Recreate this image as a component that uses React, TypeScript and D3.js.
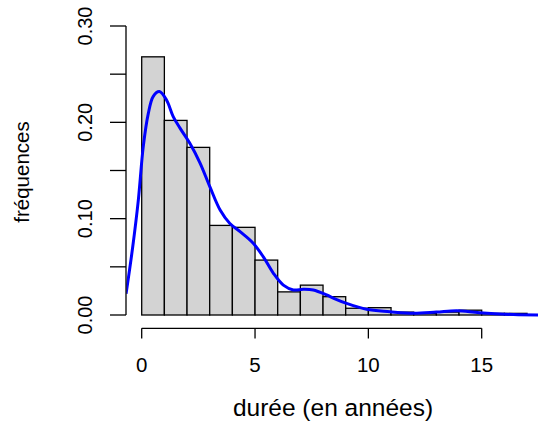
import React from "react";
import * as d3 from "d3";

const binStarts = [0, 1, 2, 3, 4, 5, 6, 7, 8, 9, 10, 11, 12, 13, 14, 15, 16];
const binFreq = [0.268, 0.202, 0.174, 0.093, 0.091, 0.057, 0.024, 0.031, 0.019, 0.007, 0.0076, 0.003, 0.0017, 0.003, 0.005, 0.0017, 0.0017];

const densX = [-0.69, -0.4, -0.15, 0.07, 0.29, 0.51, 0.78, 1.1, 1.39, 1.69, 2.13, 2.57, 3.01, 3.46, 3.89, 4.34, 4.92, 5.36, 5.81, 6.25, 6.69, 7.13, 7.57, 8.16, 8.5, 9.04, 9.92, 10.95, 11.98, 13.0, 13.9, 14.9, 16.4, 17.7];
const densY = [0.022, 0.07, 0.119, 0.175, 0.209, 0.227, 0.232, 0.223, 0.206, 0.194, 0.178, 0.158, 0.133, 0.109, 0.095, 0.0865, 0.0745, 0.0606, 0.0433, 0.031, 0.026, 0.0267, 0.026, 0.0208, 0.017, 0.012, 0.0059, 0.0034, 0.0017, 0.003, 0.0045, 0.0024, 0.0005, 0.0];

const xTicks = [0, 5, 10, 15];
const yTicks = [0, 0.05, 0.1, 0.15, 0.2, 0.25, 0.3];
const yLabels = ["0.00", "0.10", "0.20", "0.30"];
const yLabelVals = [0, 0.1, 0.2, 0.3];

const xTitle = "durée (en années)";
const yTitle = "fréquences";

const W = 538;
const H = 421;
const font = "'Liberation Sans', Arial, Helvetica, sans-serif";

export default function App() {
  const x = d3.scaleLinear().domain([0, 15]).range([141.7, 481.7]);
  const y = d3.scaleLinear().domain([0, 0.3]).range([315, 26]);
  const binW = 1;

  const line = d3
    .line<number>()
    .x((_, i) => x(densX[i]))
    .y((d) => y(d))
    .curve(d3.curveCatmullRom.alpha(0.5));

  const clipX0 = x(-0.68);
  const clipX1 = x(17.68);
  const clipY0 = y(0.312);
  const clipY1 = y(-0.012);

  return (
    <div style={{ position: "fixed", left: 0, top: 0 }}>
      <svg width={W} height={H} style={{ display: "block", background: "#fff" }}>
        <defs>
          <clipPath id="plotclip">
            <rect x={clipX0} y={clipY0} width={clipX1 - clipX0} height={clipY1 - clipY0} />
          </clipPath>
        </defs>
        {/* bars */}
        <g>
          {binStarts.map((s, i) => (
            <rect
              key={i}
              x={x(s)}
              y={y(binFreq[i])}
              width={x(s + binW) - x(s)}
              height={y(0) - y(binFreq[i])}
              fill="#D3D3D3"
              stroke="#000"
              strokeWidth={1.3}
            />
          ))}
        </g>
        {/* density */}
        <path
          d={line(densY) || ""}
          fill="none"
          stroke="#0000FF"
          strokeWidth={3}
          clipPath="url(#plotclip)"
        />
        {/* y axis */}
        <g stroke="#000" strokeWidth={1.3}>
          <line x1={126} x2={126} y1={y(0.3)} y2={y(0)} />
          {yTicks.map((t, i) => (
            <line key={i} x1={110} x2={126} y1={y(t)} y2={y(t)} />
          ))}
        </g>
        <g fontFamily={font} fontSize={20} fill="#000">
          {yLabelVals.map((v, i) => (
            <text key={i} transform={`translate(91.7,${y(v)}) rotate(-90)`} textAnchor="middle">
              {yLabels[i]}
            </text>
          ))}
        </g>
        {/* x axis */}
        <g stroke="#000" strokeWidth={1.3}>
          <line x1={x(0)} x2={x(15)} y1={328.3} y2={328.3} />
          {xTicks.map((t, i) => (
            <line key={i} x1={x(t)} x2={x(t)} y1={328.3} y2={338.5} />
          ))}
        </g>
        <g fontFamily={font} fontSize={20.5} fill="#000">
          {xTicks.map((t, i) => (
            <text key={i} x={x(t)} y={371.7} textAnchor="middle">
              {String(t)}
            </text>
          ))}
        </g>
        <text x={333} y={416} textAnchor="middle" fontFamily={font} fontSize={24.5} fill="#000">
          {xTitle}
        </text>
        <text transform="translate(29,172) rotate(-90)" textAnchor="middle" fontFamily={font} fontSize={20.5} fill="#000">
          {yTitle}
        </text>
      </svg>
    </div>
  );
}
